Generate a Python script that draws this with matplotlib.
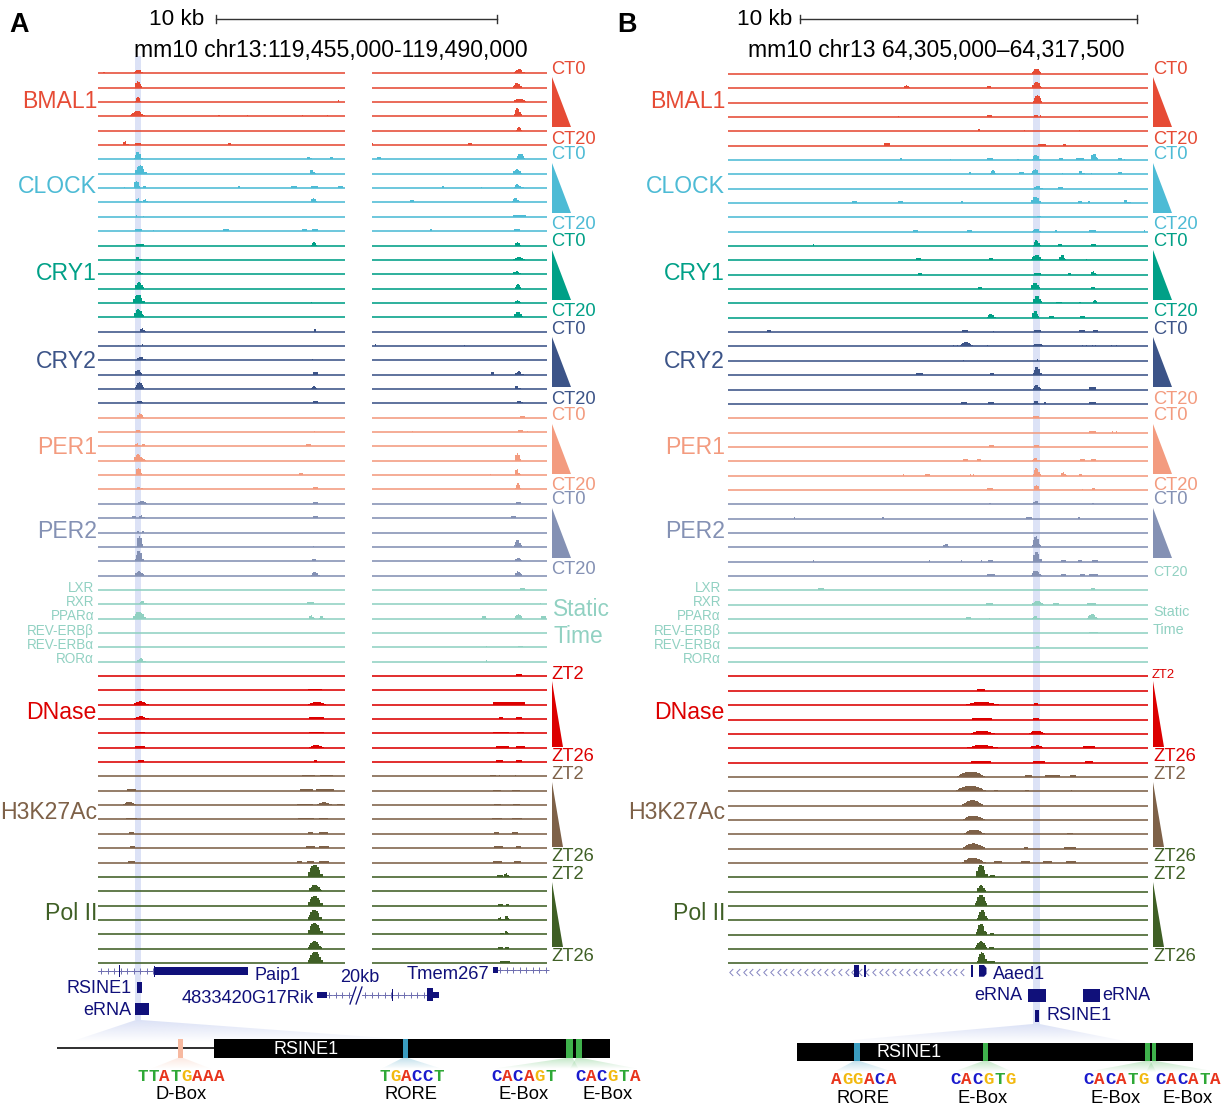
import matplotlib
matplotlib.use("Agg")
import matplotlib.pyplot as plt
import numpy as np
from matplotlib.patches import Polygon, Rectangle
from matplotlib.path import Path

plt.rcParams["font.family"] = ["Liberation Sans", "DejaVu Sans"]

# peaks are (centre, width, height), one list per track
A_BMAL1 = [
    [(104, 2, 1.5), (138, 8, 3.5), (519, 10, 4)],
    [(138, 7, 6), (517, 8, 4.5)],
    [(138, 6, 4.5), (338.5, 1.5, 1.5), (519.5, 12, 3)],
    [(137, 14, 5), (219, 1.5, 1), (247.5, 1, 1), (302, 1, 1), (327, 1, 1), (517.5, 7, 8)],
    [(519, 6, 3.5)],
    [(125, 5, 3.5), (137.5, 6, 1.5), (229.5, 3, 2), (372.5, 1, 2), (469.5, 4, 2)],
]
A_CLOCK = [
    [(138, 8, 7), (309, 5, 2.5), (331.5, 3, 2), (379, 4, 2), (520.5, 9, 5.5)],
    [(140, 11, 8), (312, 5, 3.5), (517, 9, 4)],
    [(124.5, 1, 1), (136.5, 6, 7), (144, 3, 2), (239, 2, 1.5), (294, 6, 2), (314, 7, 2),
     (340.5, 5, 2), (443, 2, 1.5), (481, 1, 1), (517.5, 7, 3.5), (523, 2, 1)],
    [(138, 5, 4), (145, 5, 3), (313.5, 6, 4), (412, 4, 2), (515.5, 7, 4)],
    [(136.5, 1, 1.5), (143, 1, 1), (519.5, 13, 1.5)],
    [(138, 7, 2), (153.5, 1, 1), (225.5, 6, 1.5), (304, 5, 1.5), (314.5, 6, 1.5),
     (431, 2, 1.5), (516.5, 6, 1.5)],
]
A_CRY1 = [
    [(140, 8, 1.5), (314, 6, 3.5), (517.5, 6, 3)],
    [(138, 5, 3), (519, 12, 2.5)],
    [(139.5, 7, 2.5), (516.5, 8, 2.5)],
    [(139, 9, 6), (518, 6, 4)],
    [(138, 11, 8), (311, 1, 1), (517.5, 6, 2.5)],
    [(138.5, 10, 7.5), (518, 9, 5)],
]
A_CRY2 = [
    [(142, 5, 3), (314.5, 2, 2)],
    [(138, 1, 1), (142, 1, 1.5), (375.5, 1, 1.5), (464, 1, 1)],
    [(140.5, 8, 3.5), (312.5, 1, 1.5)],
    [(138, 7, 4.5), (315, 5, 2), (492, 3, 2), (518.5, 8, 3)],
    [(139.5, 9, 6.5), (314, 6, 2.5), (517, 5, 3)],
    [(140, 7, 2.5), (315, 5, 2), (519.5, 7, 2.5)],
]
A_PER1 = [
    [(140, 7, 4), (522.5, 5, 1.5)],
    [(138, 4, 1.5), (314.5, 1, 1), (412, 1, 1), (520, 5, 1.5), (527, 1, 1)],
    [(137, 5, 3), (143, 4, 2.5), (308, 5, 2)],
    [(138, 9, 6), (143, 4, 2.5), (517.5, 6, 7)],
    [(138.5, 6, 7), (301, 4, 2), (490, 1, 1), (517, 5, 6)],
    [(138, 3, 2), (141.5, 2, 1.5), (315, 5, 2), (518, 6, 6)],
]
A_PER2 = [
    [(142, 9, 3), (315, 5, 1.5), (518.5, 5, 1.5)],
    [(134, 4, 2), (141, 5, 2.5), (315, 5, 1.5), (513, 5, 1.5)],
    [(138, 2, 1.5), (143, 2, 1.5)],
    [(139.5, 6, 11), (313, 1, 1), (517.5, 7, 6.5)],
    [(139, 8, 10), (314, 4, 1.5), (518, 7, 3)],
    [(139, 9, 4), (315, 8, 3), (518, 7, 4)],
]
A_STATIC = [
    [(522.5, 5, 1.5)],
    [(142.5, 7, 3), (310, 7, 2), (540, 1, 1)],
    [(139, 13, 6.5), (311, 5, 3), (321.5, 5, 2.5), (484, 6, 2.5), (518.5, 9, 4), (543, 5, 2)],
    [],
    [(486, 1, 1.5), (520, 5, 1.5)],
    [(140.5, 8, 3), (486, 1, 1)],
]
A_DNASE = [
    [(519, 6, 1.5)],
    [(140, 7, 1.5), (315, 14, 1.5)],
    [(140.5, 14, 3), (317, 18, 2.5), (509, 32, 2)],
    [(140.5, 14, 2.5), (316, 15, 1.5), (501, 4, 1.5), (519, 6, 1.5)],
    [(140, 10, 1.5), (316, 15, 1.5), (501, 16, 1.5), (520, 7, 1.5)],
    [(140, 10, 1.5), (316, 14, 2.5), (502, 13, 1.5), (520.5, 9, 1.5)],
    [(140.5, 6, 1.5), (315.5, 3, 1.5), (499, 7, 1.5), (519, 6, 1.5)],
]
A_H3K27AC = [
    [(308.5, 13, 1.5), (326, 13, 1.5), (493, 6, 1), (499.5, 1, 1), (515, 1, 1)],
    [(131.5, 9, 2), (306, 13, 2), (325, 18, 1.5), (497, 8, 1), (516, 8, 1)],
    [(129, 13, 3), (304.5, 16, 1), (324, 15, 2.5), (340, 6, 1), (497, 7, 1), (516, 7, 1)],
    [(131, 11, 1.5), (306, 16, 1.5), (323, 9, 1.5), (497, 10, 1), (517, 10, 1)],
    [(131, 5, 1.5), (310.5, 5, 1.5), (323, 9, 1.5), (496, 5, 1.5), (515, 6, 1.5)],
    [(132, 5, 1.5), (310, 9, 1.5), (324, 10, 1.5), (498, 9, 1.5), (518.5, 5, 1.5)],
    [(131, 7, 1.5), (299, 5, 1), (310, 7, 1), (324, 10, 1), (497, 9, 1), (517.5, 7, 1)],
]
A_POL2 = [
    [(314.5, 14, 12), (500, 6, 1.5), (506, 5, 3.5)],
    [(315, 13, 6)],
    [(314.5, 14, 9.5), (500, 5, 1.5), (507, 3, 1.5)],
    [(314.5, 13, 10), (500, 5, 2.5), (506.5, 5, 4)],
    [(314.5, 14, 11), (501.5, 4, 1.5), (506.5, 4, 3)],
    [(314.5, 13, 7), (500, 5, 1.5), (507, 4, 1.5)],
    [(315, 14, 11), (505, 10, 2)],
]

B_BMAL1 = [
    [(1036.5, 9, 5)],
    [(906.5, 6, 2.5), (989, 4, 2), (1036.5, 10, 6)],
    [(1037.5, 9, 7)],
    [(898, 1, 1), (989, 5, 2), (1035, 2, 2), (1037, 2, 2), (1040.5, 1, 1.5)],
    [(979, 2, 1.5), (1024, 1, 1), (1079, 1, 1)],
    [(887, 6, 2), (1041.5, 8, 1.5), (1064.5, 3, 1.5)],
]
B_CLOCK = [
    [(901, 2, 1.5), (950, 1, 1), (990, 6, 2), (1017.5, 2, 1), (1036, 8, 5), (1061, 4, 1.5),
     (1080, 8, 2), (1094, 7, 6), (1120, 4, 2), (1124, 1, 1)],
    [(970, 2, 1.5), (993, 6, 3.5), (1021.5, 5, 1.5), (1035, 8, 4.5), (1062, 1, 1),
     (1081, 5, 3), (1091.5, 1, 1), (1119.5, 4, 2)],
    [(1037.5, 8, 2.5), (1060.5, 5, 1.5)],
    [(854, 5, 2), (900, 5, 2), (962, 2, 1.5), (1035.5, 10, 6), (1080, 4, 1.5), (1089, 2, 1.5),
     (1126, 5, 3), (1130, 2, 1)],
    [(1039, 4, 1.5)],
    [(915.5, 5, 1.5), (969, 5, 1.5), (1036, 8, 2.5), (1056, 2, 1.5), (1092.5, 7, 1.5), (1144, 1, 1)],
]
B_CRY1 = [
    [(813, 1, 1.5), (1036.5, 7, 5.5), (1060, 4, 1.5), (1093, 5, 1.5)],
    [(918, 5, 2), (991, 4, 2), (1036.5, 11, 5.5), (1062, 7, 5), (1086, 1, 1)],
    [(920, 4, 1.5), (1037.5, 7, 1.5), (1069.5, 3, 1.5), (1093, 5, 3)],
    [(980, 4, 1.5), (1035, 9, 6), (1092.5, 4, 1.5)],
    [(1037, 9, 7.5), (1059, 6, 1.5), (1080, 2, 1.5), (1095, 6, 3)],
    [(991, 8, 3.5), (1035, 7, 7), (1051.5, 5, 1.5), (1082, 5, 1.5)],
]
B_CRY2 = [
    [(768.5, 4, 2), (964.5, 6, 2), (993, 1, 1), (1037, 7, 2), (1081.5, 6, 2), (1095, 5, 2)],
    [(953, 1, 1), (957, 1, 1), (966, 12, 4), (971.5, 3, 1.5), (987, 1, 1), (1038, 12, 2.5),
     (1082, 1, 1), (1086, 1, 1), (1092, 1, 1), (1095, 1, 1), (1111, 1, 1), (1116, 1, 1)],
    [(963, 1, 1), (1037.5, 1, 1.5)],
    [(919, 7, 2), (992, 4, 2), (1037, 8, 8)],
    [(1036.5, 7, 4.5), (1092.5, 7, 2)],
    [(964, 6, 2), (991, 6, 2), (1036, 6, 3), (1044.5, 2, 1.5), (1092.5, 7, 1.5)],
]
B_PER1 = [
    [(1035.5, 6, 2)],
    [(1092.5, 7, 1.5), (1112.5, 1, 1), (1116, 1, 1)],
    [(991, 5, 2), (1036.5, 5, 2)],
    [(965.5, 5, 2), (979, 4, 2), (1035.5, 7, 3), (1082.5, 5, 1.5), (1093, 5, 2)],
    [(903, 1, 1), (927, 5, 1.5), (970, 1, 1.5), (973, 1, 1.5), (1036.5, 7, 7), (1063, 5, 3), (1080, 3, 1.5)],
    [(990, 6, 1.5), (1036.5, 6, 4.5), (1082, 1, 1), (1093, 3, 1.5)],
]
B_PER2 = [
    [(990, 2, 1.5), (1036, 7, 3), (1093, 2, 1.5)],
    [(794, 1, 1), (883, 2, 1), (1029, 6, 1.5), (1079, 2, 1)],
    [],
    [(946, 7, 3), (1036, 8, 11)],
    [(813, 1, 1), (929, 1, 1), (961, 1, 1), (981, 1, 1), (990, 5, 1.5), (1036.5, 8, 10),
     (1063, 5, 1.5), (1079.5, 4, 1.5), (1095, 6, 1.5)],
    [(991, 8, 1.5), (1036, 10, 5), (1063, 5, 1.5), (1082, 5, 1.5), (1093, 9, 1.5)],
]
B_STATIC = [
    [(821, 6, 2), (1092.5, 4, 2)],
    [(989.5, 7, 1.5), (1037.5, 12, 3.5), (1056, 6, 1.5), (1091, 9, 1.5)],
    [(968, 5, 1.5), (989, 1, 1), (1035.5, 7, 2.5), (1092, 10, 4.5)],
    [(1093, 9, 1.5)],
    [(1037, 3, 1.5)],
    [],
]
B_DNASE = [
    [],
    [(980.5, 8, 1.5)],
    [(982, 32, 3), (1036, 4, 2)],
    [(982, 20, 1.5), (1036, 6, 1.5)],
    [(982, 23, 3), (1036.5, 16, 3)],
    [(982, 31, 3), (1037, 16, 2.5), (1089, 12, 1.5)],
    [(981, 20, 1.5), (1039, 12, 1.5), (1088.5, 8, 1.5)],
]
B_H3K27AC = [
    [(970.5, 28, 5), (1028.5, 7, 1.5), (1052, 15, 1.5), (1072.5, 6, 1.5)],
    [(970.5, 30, 5), (996, 4, 1.5), (1027, 4, 1.5), (1071.5, 1, 1)],
    [(972.5, 21, 5)],
    [(973.5, 22, 4)],
    [(974, 21, 4.5), (1070, 6, 1.5)],
    [(973.5, 22, 5), (1026, 4, 1.5), (1070, 12, 1)],
    [(973, 23, 5), (998, 8, 1.5), (1025, 9, 1.5), (1047, 9, 1.5), (1071, 10, 2)],
]
B_POL2 = [
    [(981, 11, 12), (992, 8, 2.5)],
    [(981, 9, 6)],
    [(981, 12, 11)],
    [(982, 10, 10)],
    [(981, 10, 10.5), (991.5, 4, 1.5)],
    [(981, 12, 7.5), (991.5, 5, 1.5)],
    [(982, 10, 11), (991, 8, 2)],
]

GROUP_NAMES = ["BMAL1", "CLOCK", "CRY1", "CRY2", "PER1", "PER2", "DNase", "H3K27Ac", "Pol II"]
STATIC_NAMES = ["LXR", "RXR", "PPARα", "REV-ERBβ", "REV-ERBα", "RORα"]

BMAL1_C = "#E64B35"
CLOCK_C = "#4DBBD5"
CRY1_C = "#00A087"
CRY2_C = "#3C5488"
PER1_C = "#F39B7F"
PER2_C = "#8491B4"
STATIC_C = "#91D1C2"
DNASE_C = "#DC0000"
H3K_C = "#7E6148"
POL2_C = "#3F5F25"
NAVY = "#10107A"
BAND_C = "#DCE2F6"
GREEN_BOX = "#3FB24C"
BLUE_BOX = "#3A9CC0"
ORANGE_BOX = "#F7B9A0"
BASE_COLORS = {"A": "#E8341C", "C": "#1A1ACD", "G": "#F2B90F", "T": "#2EA836"}

GROUP_COLORS = [BMAL1_C, CLOCK_C, CRY1_C, CRY2_C, PER1_C, PER2_C, DNASE_C, H3K_C, POL2_C]
LABEL_Y = [100, 185, 272, 359.5, 446, 530, 711, 811, 912]
STATIC_Y = [586, 600.5, 615, 629.5, 643.5, 657.5]
TRI_Y = [(77, 127), (162.7, 212.7), (250, 300), (336.7, 387), (424, 474), (508, 558),
         (680.7, 746.7), (781.7, 846.7), (881.7, 947.3)]

RIGHT_A = [
    ("CT0", 68, BMAL1_C), ("CT20", 138, BMAL1_C), ("CT0", 153, CLOCK_C), ("CT20", 223, CLOCK_C),
    ("CT0", 240.5, CRY1_C), ("CT20", 310, CRY1_C), ("CT0", 328, CRY2_C), ("CT20", 398, CRY2_C),
    ("CT0", 414, PER1_C), ("CT20", 484, PER1_C), ("CT0", 498.5, PER2_C), ("CT20", 568, PER2_C),
    ("ZT2", 673, DNASE_C), ("ZT26", 755, DNASE_C), ("ZT2", 773, H3K_C), ("ZT26", 855, POL2_C),
    ("ZT2", 873, POL2_C), ("ZT26", 955, POL2_C),
]
RIGHT_B = [
    ("CT0", 68, BMAL1_C), ("CT20", 138, BMAL1_C), ("CT0", 153, CLOCK_C), ("CT20", 223, CLOCK_C),
    ("CT0", 240.5, CRY1_C), ("CT20", 310, CRY1_C), ("CT0", 328, CRY2_C), ("CT20", 398, PER1_C),
    ("CT0", 414, PER1_C), ("CT20", 484, PER1_C), ("CT0", 498.5, PER2_C),
    ("ZT26", 755, DNASE_C), ("ZT2", 773, H3K_C), ("ZT26", 855, POL2_C),
    ("ZT2", 873, POL2_C), ("ZT26", 955, POL2_C),
]

# motif, label, centre x, mark left, mark right, mark colour
MOTIFS_A = [
    ("TTATGAAA", "D-Box", 181, 177.6, 183.4, ORANGE_BOX),
    ("TGACCT", "RORE", 411.5, 402.5, 408, BLUE_BOX),
    ("CACAGT", "E-Box", 523.5, 566, 572.6, GREEN_BOX),
    ("CACGTA", "E-Box", 607.5, 576, 582, GREEN_BOX),
]
MOTIFS_B = [
    ("AGGACA", "RORE", 863.5, 854, 859.6, BLUE_BOX),
    ("CACGTG", "E-Box", 983, 983, 988.4, GREEN_BOX),
    ("CACATG", "E-Box", 1116, 1145, 1150.4, GREEN_BOX),
    ("CACATA", "E-Box", 1188, 1152, 1156, GREEN_BOX),
]


def px(size):
    return size * 72 / 100


fig = plt.figure(figsize=(12.28, 11.06), dpi=100)
ax = fig.add_axes([0, 0, 1, 1])
ax.set_xlim(0, 1228)
ax.set_ylim(1106, 0)
ax.axis("off")


def label(x, y, s, color="black", size=18, ha="left", **kw):
    ax.text(x, y + 1.5, s, color=color, fontsize=px(size), ha=ha, va="center", **kw)


def draw_peak(center, width, height, base, color):
    if width <= 3 or height <= 2:
        ax.add_patch(Rectangle((center - width / 2, base - height - 0.3), width, height + 0.3,
                               fc=color, lw=0, zorder=3))
        return
    # blocky bins, like a signal track
    xs = np.arange(center - width / 2, center + width / 2 + 1.5, 1.5)
    u = np.abs(xs - center) / (width / 2)
    env = np.clip(1 - u ** 2.2, 0.25, 1)
    ax.fill_between(xs, base, base - (height + 0.3) * env, step="mid", color=color, lw=0, zorder=3)


def fade_wedge(points, color, top, bottom, alpha=1.0):
    rgba = np.ones((64, 2, 4))
    rgba[..., :3] = matplotlib.colors.to_rgb(color)
    rgba[..., 3] = np.linspace(alpha, 0, 64)[:, None]
    xs = [p[0] for p in points]
    image = ax.imshow(rgba, extent=(min(xs), max(xs), bottom, top), aspect="auto", zorder=1)
    image.set_clip_path(Polygon(points, transform=ax.transData))


def gene_line(x0, x1, y, step=6.5, marker="+", size=4.5):
    ticks = np.arange(x0 + 3, x1, step)
    ax.plot([x0, x1], [y, y], color="#8A8AC0", lw=0.7, zorder=2)
    ax.plot(ticks, np.full(len(ticks), y), ls="", marker=marker, ms=size, mew=0.7,
            color="#6E6EB0", zorder=2)


def box(x0, x1, y0, y1, color=NAVY, zorder=4):
    ax.add_patch(Rectangle((x0, y0), x1 - x0, y1 - y0, fc=color, lw=0, zorder=zorder))


def draw_tracks(groups, segments, y0, left_x, small_x, tri_x0, tri_w):
    colors = [BMAL1_C, CLOCK_C, CRY1_C, CRY2_C, PER1_C, PER2_C, STATIC_C, DNASE_C, H3K_C, POL2_C]
    idx = 0
    for tracks, color in zip(groups, colors):
        for peaks in tracks:
            base = y0 + 14.35 * idx
            for x0, x1 in segments:
                ax.plot([x0, x1], [base, base], color=color, lw=px(1.6), solid_capstyle="butt", zorder=3)
            for center, width, height in peaks:
                draw_peak(center, width, height, base, color)
            idx += 1
    for name, y, color, (top, bot), i in zip(GROUP_NAMES, LABEL_Y, GROUP_COLORS, TRI_Y, range(9)):
        label(left_x, y, name, color, 23, ha="right")
        w = tri_w if i < 6 else tri_w * 0.58
        ax.add_patch(Polygon([(tri_x0, top), (tri_x0, bot), (tri_x0 + w, bot)], fc=color, lw=0))
    for name, y in zip(STATIC_NAMES, STATIC_Y):
        label(small_x, y, name, STATIC_C, 13.5, ha="right")


def scale_bar(x0, x1, y):
    ax.plot([x0, x1], [y, y], color="#333333", lw=px(1.4))
    for x in (x0, x1):
        ax.plot([x, x], [y - 4, y + 4], color="#333333", lw=px(1.4))


def draw_motifs(motifs, bar_bottom, seq_y, name_y):
    for seq, name, center, m0, m1, color in motifs:
        left = min(m0 - 6, center - 30)
        right = max(m1 + 6, center + 30)
        fade_wedge([(m0, bar_bottom), (m1, bar_bottom), (right, seq_y - 7), (left, seq_y - 7)],
                   color, bar_bottom, seq_y - 7, alpha=0.3)
        for i, base in enumerate(seq):
            ax.text(center + (i - (len(seq) - 1) / 2) * 10.9, seq_y + 0.5, base, color=BASE_COLORS[base],
                    fontsize=px(17.5), family="Liberation Mono", fontweight="bold",
                    ha="center", va="center", zorder=5)
        label(center, name_y, name, "black", 18.4, ha="center")


# panel A
label(9, 23, "A", "black", 27, fontweight="bold")
label(204, 18, "10 kb", "black", 22.5, ha="right")
scale_bar(216, 497, 18.5)
label(330.5, 49, "mm10 chr13:119,455,000-119,490,000", "black", 23, ha="center")
box(134.5, 141, 56, 1020, BAND_C, 1)
draw_tracks([A_BMAL1, A_CLOCK, A_CRY1, A_CRY2, A_PER1, A_PER2, A_STATIC, A_DNASE, A_H3K27AC, A_POL2],
            [(98, 345), (372, 547)], 73.3, 97, 94, 551.5, 19.5)
for text, y, color in RIGHT_A:
    label(551, y, text, color, 18.4)
label(553, 608, "Static", STATIC_C, 22.8)
label(553, 635, "Time", STATIC_C, 22.8)

gene_line(98, 155, 970.7)
box(118.8, 120.3, 965, 977)
box(154.4, 248, 967, 975)
box(153.7, 155, 965.5, 976.5)
label(254, 974.3, "Paip1", NAVY, 18)
label(340, 975.7, "20kb", NAVY, 18)
label(406.5, 973, "Tmem267", NAVY, 18.4)
box(492.5, 497.5, 967, 972.7)
gene_line(497, 548, 970)
label(132, 987, "RSINE1", NAVY, 18, ha="right")
box(137.3, 141.5, 981.7, 992.7)
label(131, 1009, "eRNA", NAVY, 18, ha="right")
box(135, 148.5, 1003, 1015)
label(314, 996.7, "4833420G17Rik", NAVY, 18.4, ha="right")
box(316.6, 326.5, 991.7, 998.3)
gene_line(326, 350, 995)
gene_line(362, 428, 995)
box(391.5, 392.7, 989, 1001)
box(427.4, 433, 988, 1000.7)
box(433, 439, 991.7, 998)
for x in (350, 356):
    ax.plot([x, x + 6], [1004, 987], color=NAVY, lw=px(1.3), zorder=4)

fade_wedge([(136, 1020), (141, 1020), (440, 1042), (70, 1042)], BAND_C, 1020, 1042)
ax.plot([58, 214], [1048, 1048], color="#333333", lw=px(2), zorder=3)
box(213.7, 610, 1039, 1058, "black", 3)
box(177.6, 183.4, 1039, 1058, ORANGE_BOX, 4)
for _, _, _, m0, m1, color in MOTIFS_A[1:]:
    box(m0, m1, 1039, 1058, color, 4)
label(306, 1048, "RSINE1", "white", 18, ha="center", zorder=5)
draw_motifs(MOTIFS_A, 1058, 1075.7, 1093)

# panel B
label(617, 23, "B", "black", 27, fontweight="bold")
label(792, 18, "10 kb", "black", 22.5, ha="right")
scale_bar(800, 1137, 19)
label(936, 49, "mm10 chr13 64,305,000–64,317,500", "black", 23, ha="center")
box(1033, 1039.5, 70, 1024, BAND_C, 1)
draw_tracks([B_BMAL1, B_CLOCK, B_CRY1, B_CRY2, B_PER1, B_PER2, B_STATIC, B_DNASE, B_H3K27AC, B_POL2],
            [(728, 1148)], 73.8, 725, 721, 1153, 19)
for text, y, color in RIGHT_B:
    label(1153, y, text, color, 18.4)
label(1153, 570, "CT20", STATIC_C, 14)
label(1153, 611, "Static", STATIC_C, 14.4)
label(1153, 628, "Time", STATIC_C, 14.4)
label(1152, 674, "ZT2", DNASE_C, 13)

chevron = Path([(0.5, 1), (-0.5, 0), (0.5, -1)], [Path.MOVETO, Path.LINETO, Path.LINETO])
chevron_x = np.arange(731, 968, 6.8)
ax.plot(chevron_x, np.full(len(chevron_x), 971.7), ls="", marker=chevron, ms=5, mew=0.7,
        mfc="none", color="#8585C0", zorder=2)
box(854, 858.5, 965, 976.7)
box(864, 866, 965, 976.7)
box(971, 973, 965, 976.7)
ax.add_patch(Polygon([(979, 965), (984, 965), (986.5, 968), (986.5, 974), (984, 976.7), (979, 976.7)],
                     fc=NAVY, lw=0, zorder=4))
label(993, 973.3, "Aaed1", NAVY, 18)
label(1022.7, 994.3, "eRNA", NAVY, 18, ha="right")
box(1028, 1045.6, 989.3, 1001.7)
box(1083, 1100, 989.3, 1001.7)
label(1102, 994.3, "eRNA", NAVY, 18)
box(1035, 1038.5, 1010, 1021.7)
label(1046.7, 1014.3, "RSINE1", NAVY, 18)

fade_wedge([(1033, 1024), (1039.5, 1024), (1133, 1042.7), (823, 1042.7)], BAND_C, 1024, 1042.7)
box(797, 1192.5, 1042.7, 1061, "black", 3)
for _, _, _, m0, m1, color in MOTIFS_B:
    box(m0, m1, 1042.7, 1061, color, 4)
label(909.4, 1051, "RSINE1", "white", 18, ha="center", zorder=5)
draw_motifs(MOTIFS_B, 1061, 1079, 1096.7)

fig.savefig("out.png", dpi=100)
